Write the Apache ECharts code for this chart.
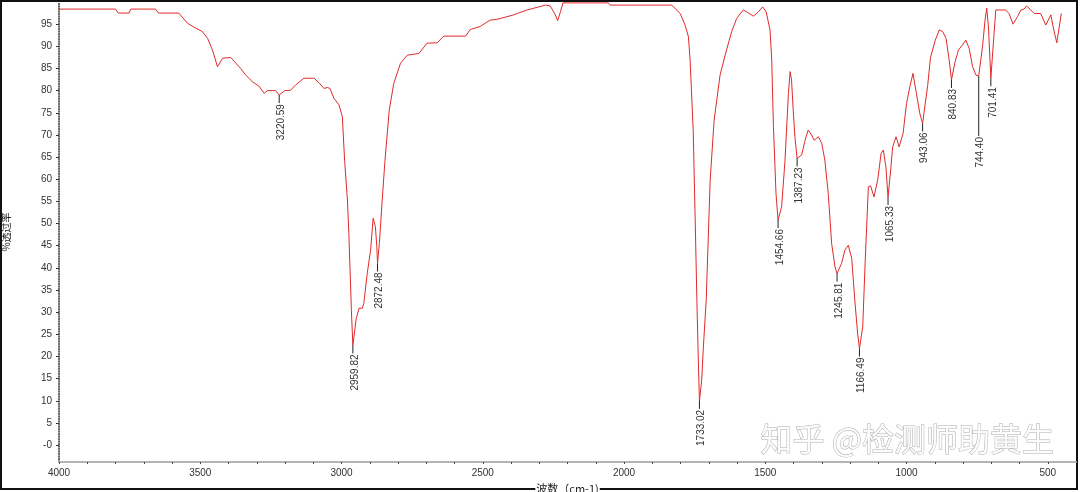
<!DOCTYPE html>
<html><head><meta charset="utf-8">
<script src="https://cdn.jsdelivr.net/npm/echarts@6/dist/echarts.min.js"></script>
<style>html,body{margin:0;padding:0;background:#fff}#c{width:1080px;height:492px}</style>
</head><body><div id="c"></div>
<script>
// Spectrum (wavenumber cm-1, % transmittance)
const wavenumbers = [4000,3800,3790,3752,3746,3658,3648,3576,3569,3545,3516,3492,3474,3457,3439,3421,3416,3392,3374,3357,3339,3315,3292,3274,3262,3233,3220.59,3201,3180,3162,3133,3097,3080,3062,3050,3041,3027,3009,2997,2989,2979,2974,2965,2959.82,2948,2938,2926,2921,2909,2897,2888,2880,2875,2872.48,2866,2856,2846,2831,2815,2791,2767,2726,2697,2661,2638,2561,2544,2508,2485,2473,2449,2390,2378,2343,2278,2261,2243,2235,2225,2216,2055,2049,1831,1801,1784,1772,1766,1755,1748,1742,1737,1733.02,1725,1719,1709,1695,1681,1660,1642,1619,1601,1578,1566,1542,1524,1509,1497,1483,1477,1471,1462,1454.66,1442,1430,1418,1412,1407,1401,1395,1387.23,1371,1359,1348,1336,1327,1312,1300,1289,1277,1265,1253,1245.81,1230,1218,1206,1194,1183,1173,1166.49,1155,1146,1135,1127,1115,1102,1090,1082,1073,1065.33,1056,1049,1037,1026,1012,1000,988,977,965,953,948,943.06,925,915,898,884,872,860,849,840.83,828,816,802,790,778,766,754,744.40,731,722,716,710,701.41,690,684,649,637,623,607,595,584,575,560,548,525,507,489,481,468,452];
const transmittance = [98.4,98.4,97.5,97.5,98.4,98.4,97.5,97.5,97.1,95.2,94.1,93.3,91.8,89.2,85.4,87.3,87.5,87.5,86.2,85.0,83.5,82.0,81.0,79.4,80.0,80.0,79.0,80.0,80.1,81.3,82.8,82.8,81.8,80.5,80.7,80.5,78.3,76.8,74.1,64.3,55.3,47.8,30.4,22.5,28.5,30.9,30.9,32.0,38.7,44.0,51.2,49.3,44.8,41.0,45.5,55.3,64.3,75.6,81.6,86.2,88.0,88.4,90.7,90.8,92.3,92.3,93.8,94.5,95.5,95.9,96.1,97.1,97.4,98.2,99.3,99.1,97.1,95.8,97.8,99.8,99.8,99.3,99.3,97.4,94.8,92.2,86.9,71.0,50.8,32.7,19.2,10.0,14.7,22.2,32.7,59.8,73.3,83.5,88.0,93.3,96.3,98.2,97.8,96.8,97.8,98.9,97.8,93.7,86.9,71.9,56.8,50.8,53.8,64.3,79.4,84.3,82.4,75.6,69.6,64.7,65.5,68.8,71.1,70.0,68.8,69.6,68.1,64.3,56.8,45.5,40.2,38.7,41.0,44.0,45.1,42.2,32.7,25.2,21.8,26.7,41.8,58.3,58.5,56.0,59.8,65.8,66.6,62.8,56.0,62.1,67.3,69.6,67.3,70.4,77.1,80.9,83.9,79.4,74.9,73.7,72.6,81.2,87.5,91.4,93.7,93.3,91.8,86.9,82.4,86.5,89.2,90.3,91.4,89.5,85.4,83.5,83.3,89.9,95.9,98.6,94.4,82.8,92.9,98.2,98.2,97.4,95.0,96.7,98.2,98.4,99.1,98.2,97.4,97.4,94.8,97.1,94.4,90.8,97.4];

// Labelled peaks
const peakWavenumbers = [3220.59,2959.82,2872.48,1733.02,1454.66,1387.23,1245.81,1166.49,1065.33,943.06,840.83,744.40,701.41];
const peakTransmittance = [79.0,22.5,41.0,10.0,50.8,64.7,38.7,21.8,56.0,72.6,82.4,83.3,82.8];
const peakLabels = ["3220.59","2959.82","2872.48","1733.02","1454.66","1387.23","1245.81","1166.49","1065.33","943.06","840.83","744.40","701.41"];

// Axis ticks
const xTickLabels = [4000,3500,3000,2500,2000,1500,1000,500];
const xMinorTicks = [4000,3900,3800,3700,3600,3500,3400,3300,3200,3100,3000,2900,2800,2700,2600,2500,2400,2300,2200,2100,2000,1900,1800,1700,1600,1500,1400,1300,1200,1100,1000,900,800,700,600,500];
const yTickLabels = [0,5,10,15,20,25,30,35,40,45,50,55,60,65,70,75,80,85,90,95];

// styles
const peakTickLen = {"744.40": 60};
const defaultTickLen = 8;
const labelFont = '10px "Liberation Sans", Arial, sans-serif';

const chart = echarts.init(document.getElementById('c'), null, {renderer:'canvas'});
const lineData = wavenumbers.map((w,i)=>[w, transmittance[i]]);
const peakData = peakWavenumbers.map((w,i)=>[w, peakTransmittance[i]]);

chart.setOption({
  animation:false,
  backgroundColor:'#fff',
  grid:{left:59, right:4, top:2, bottom:30, containLabel:false, outerBoundsMode:'none'},
  xAxis:{
    type:'value', inverse:true, min:400, max:4000,
    name:'波数（cm-1)', nameLocation:'middle', nameGap:17,
    nameTextStyle:{color:'#222', fontSize:11, fontFamily:'"Noto Sans CJK SC", sans-serif', backgroundColor:'#fff', padding:[0,1,0,1]},
    axisLine:{onZero:false, lineStyle:{color:'#b4b4b4', width:2}},
    axisTick:{show:true, customValues:xMinorTicks, length:2, lineStyle:{color:'#444', width:1}},
    axisLabel:{customValues:xTickLabels, color:'#333', fontSize:10, fontFamily:'"Liberation Sans", Arial, sans-serif', margin:6,
      formatter:v=>String(v)},
    splitLine:{show:false}
  },
  yAxis:{
    type:'value', min:-3.8, max:100,
    name:'%透过率', nameLocation:'middle', nameRotate:90, nameGap:48,
    nameTextStyle:{color:'#222', fontSize:10, fontFamily:'"Noto Sans CJK SC", sans-serif'},
    axisLine:{show:true, onZero:false, lineStyle:{color:'#333', width:1.5, type:[1,1.5]}},
    axisTick:{show:true, customValues:yTickLabels, length:3, lineStyle:{color:'#333'}},
    axisLabel:{customValues:yTickLabels, color:'#333', fontSize:10, fontFamily:'"Liberation Sans", Arial, sans-serif', margin:7,
      formatter:v=> v===0 ? '-0' : String(v)},
    splitLine:{show:false}
  },
  graphic:[
    {type:'rect', z:-10, shape:{x:1,y:1,width:1076,height:488}, style:{fill:null, stroke:'#111', lineWidth:2}},
    {type:'text', z:100, left:760, top:422, style:{text:'知乎 @检测师助黄生', font:'32px "Noto Sans CJK SC", sans-serif', fill:'rgba(255,255,255,0.9)', stroke:'#b0b0b0', lineWidth:1}}
  ],
  series:[
    {type:'line', data:lineData, showSymbol:false, symbol:'none', clip:true,
     lineStyle:{color:'#e02a2a', width:1}, z:3},
    {type:'custom', data:peakData, z:4, clip:false,
     renderItem:(params, api)=>{
       const idx = params.dataIndex;
       const p = api.coord([api.value(0), api.value(1)]);
       const len = peakTickLen[peakLabels[idx]] || defaultTickLen;
       return {type:'group', children:[
         {type:'line', shape:{x1:p[0], y1:p[1], x2:p[0], y2:p[1]+len}, style:{stroke:'#222', lineWidth:1}},
         {type:'text', x:p[0]+2, y:p[1]+len+1, rotation:Math.PI/2,
          style:{text:peakLabels[idx], align:'right', verticalAlign:'middle', fill:'#333', font:labelFont}}
       ]};
     }}
  ]
});
</script></body></html>
